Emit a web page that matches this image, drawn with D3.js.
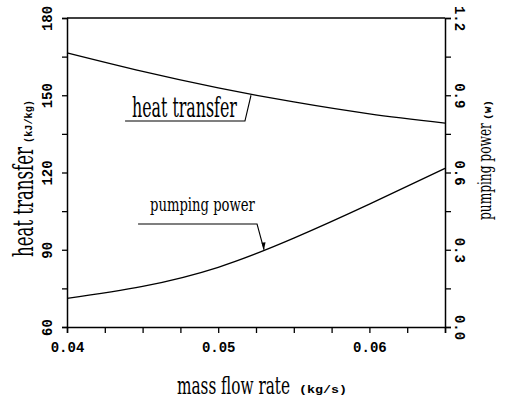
<!DOCTYPE html>
<html>
<head>
<meta charset="utf-8">
<script src="https://cdnjs.cloudflare.com/ajax/libs/d3/7.8.5/d3.min.js"></script>
<style>
  body { margin: 0; background: #fff; }
  svg { display: block; }
</style>
</head>
<body>
<div id="chart"></div>
<script>
// data
var flowRate = [0.04, 0.045, 0.05, 0.055, 0.06, 0.065];          // kg/s
var heatTransfer = [166.5, 159.3, 152.9, 147.4, 142.8, 139.2];    // kJ/kg
var pumpingPower = [0.111, 0.158, 0.232, 0.345, 0.477, 0.616];    // W

var xTicks = [0.04, 0.05, 0.06];
var leftTicks = [60, 90, 120, 150, 180];
var rightTicks = [0.0, 0.3, 0.6, 0.9, 1.2];

var W = 508, H = 399;
var margin = { top: 18, right: 63, bottom: 72, left: 67 },
    width = W - margin.left - margin.right,
    height = H - margin.top - margin.bottom;

var titleFont = "'DejaVu Serif Condensed', 'DejaVu Serif', serif";
var numFont = "'Liberation Mono', 'DejaVu Sans Mono', monospace";

var root = d3.select("#chart")
    .append("svg")
    .attr("width", W)
    .attr("height", H);
var svg = root.append("g")
    .attr("transform", "translate(" + margin.left + "," + margin.top + ")");

var x = d3.scaleLinear().domain([0.04, 0.065]).range([0, width]);
var yL = d3.scaleLinear().domain([60, 180]).range([height, 0]);
var yR = d3.scaleLinear().domain([0, 1.2]).range([height, 0]);

// draw a text squeezed horizontally to a given width
function fitText(parent, str, tx, ty, rot, size, w, font, bold) {
    var t = parent.append("text")
        .attr("font-family", font)
        .attr("font-size", size)
        .attr("font-weight", bold ? "bold" : "normal")
        .text(str);
    var nat = t.node().getComputedTextLength();
    t.attr("transform", "translate(" + tx + "," + ty + ") rotate(" + rot + ") scale(" + (w / nat) + ",1)");
    return t;
}

// bottom axis
var xAxis = svg.append("g")
    .attr("transform", "translate(0," + height + ")")
    .call(d3.axisBottom(x)
        .tickValues(d3.range(0, 11).map(i => 0.04 + i * 0.0025))
        .tickSize(6)
        .tickFormat(d => xTicks.some(t => Math.abs(t - d) < 1e-9) ? d3.format(".2f")(d) : ""));
xAxis.selectAll("text")
    .attr("y", 15)
    .attr("font-family", numFont)
    .attr("font-weight", "bold")
    .attr("font-size", 14)
    .attr("fill", "#000");

// left axis
var lAxis = svg.append("g")
    .call(d3.axisLeft(yL)
        .tickValues(d3.range(60, 181, 15))
        .tickSize(5)
        .tickFormat(d => leftTicks.indexOf(d) >= 0 ? d : ""));
lAxis.selectAll("text")
    .attr("x", 0).attr("y", 0).attr("dy", "0.35em")
    .attr("text-anchor", "middle")
    .attr("transform", "translate(-20,0) rotate(-90)")
    .attr("font-family", numFont)
    .attr("font-weight", "bold")
    .attr("font-size", 14)
    .attr("fill", "#000");

// right axis
var rAxis = svg.append("g")
    .attr("transform", "translate(" + width + ",0)")
    .call(d3.axisRight(yR)
        .tickValues(d3.range(0, 9).map(i => i * 0.15))
        .tickSize(6)
        .tickFormat(d => rightTicks.some(t => Math.abs(t - d) < 1e-9) ? d3.format(".1f")(d) : ""));
rAxis.selectAll("text")
    .attr("x", 0).attr("y", 0).attr("dy", "0.35em")
    .attr("text-anchor", "middle")
    .attr("transform", "translate(15,0) rotate(90)")
    .attr("font-family", numFont)
    .attr("font-weight", "bold")
    .attr("font-size", 14)
    .attr("fill", "#000");

[xAxis, lAxis, rAxis].forEach(a => {
    a.select(".domain").attr("stroke", "#000").attr("stroke-width", 1.5);
    a.selectAll(".tick line").attr("stroke", "#000").attr("stroke-width", 1.3);
});

// top border
svg.append("line")
    .attr("x1", 0).attr("x2", width)
    .attr("y1", 0).attr("y2", 0)
    .attr("stroke", "#000").attr("stroke-width", 1.5);

// curves
svg.append("path")
    .datum(flowRate.map((d, i) => [d, heatTransfer[i]]))
    .attr("fill", "none")
    .attr("stroke", "#000")
    .attr("stroke-width", 1.3)
    .attr("d", d3.line()
        .x(d => x(d[0]))
        .y(d => yL(d[1]))
        .curve(d3.curveNatural));

svg.append("path")
    .datum(flowRate.map((d, i) => [d, pumpingPower[i]]))
    .attr("fill", "none")
    .attr("stroke", "#000")
    .attr("stroke-width", 1.3)
    .attr("d", d3.line()
        .x(d => x(d[0]))
        .y(d => yR(d[1]))
        .curve(d3.curveNatural));

// in-plot labels with leader lines (positions in data units)
fitText(svg, "heat transfer", x(0.0443), yL(141.5), 0, 28, 105, titleFont, false);
svg.append("path")
    .attr("fill", "none").attr("stroke", "#000").attr("stroke-width", 1.1)
    .attr("d", d3.line()([
        [x(0.04384), yL(140)], [x(0.05177), yL(140)], [x(0.05217), yL(150)]
    ]));

fitText(svg, "pumping power", x(0.04549), yR(0.452), 0, 19, 105, titleFont, false);
svg.append("path")
    .attr("fill", "none").attr("stroke", "#000").attr("stroke-width", 1.1)
    .attr("d", d3.line()([
        [x(0.0447), yR(0.40)], [x(0.05257), yR(0.40)], [x(0.05303), yR(0.30)]
    ]));
// small arrow head at the curve end
var ax = x(0.05303), ay = yR(0.30);
svg.append("path")
    .attr("fill", "#000")
    .attr("d", "M" + ax + "," + ay + "l-2.5,-7l4,-0.5z");

// axis titles
fitText(root, "heat transfer", 33, 257, -90, 28, 110, titleFont, false);
fitText(root, "(kJ/kg)", 32, 143, -90, 11, 43, numFont, true);

fitText(root, "pumping power", 491, 220, -90, 19, 97, titleFont, false);
fitText(root, "(W)", 491, 120, -90, 9, 20, numFont, true);

fitText(root, "mass flow rate", 177, 394, 0, 25, 113, titleFont, false);
fitText(root, "(kg/s)", 299, 393, 0, 11, 48, numFont, true);
</script>
</body>
</html>
